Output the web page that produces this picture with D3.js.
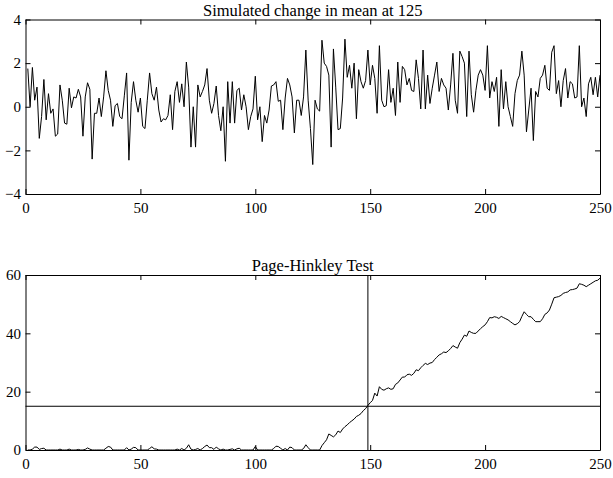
<!DOCTYPE html>
<html>
<head>
<meta charset="utf-8">
<script src="https://cdn.jsdelivr.net/npm/d3@7"></script>
<style>
  body { margin: 0; background: #fff; }
  svg { display: block; }
  .tick text, .title { font-family: 'Liberation Serif', 'Times New Roman', serif; fill: #000; }
  .tick text { font-size: 15px; }
  .title { font-size: 16.5px; }
  .domain, .tick line { stroke: #000; }
</style>
</head>
<body>
<script>
// Simulated signal, mean shifts at sample 125
const signal = [
  1.75, 0.0, 1.8, 0.3, 0.9, -1.45, -0.45, 1.25, -0.6, 0.6,
  -0.3, -0.1, -1.35, -1.25, 1.0, 0.3, -0.75, -0.8, 0.85, -0.05,
  0.45, 0.4, 0.8, 0.45, -1.35, 0.45, 1.1, 0.8, -2.4, -0.3,
  -0.3, 0.4, -0.45, 0.45, 1.65, 0.75, 0.3, -0.9, 0.05, 0.15,
  -0.45, -0.55, 0.5, 1.55, -2.45, 0.2, 1.15, 0.3, -0.25, 0.4,
  -0.9, -1.0, 0.3, 1.55, 0.6, 0.3, 0.9, -0.15, -0.7, -0.55,
  -0.6, -0.4, 0.55, -1.05, 0.7, 1.15, 0.2, 1.05, 0.0, 2.05,
  0.9, -1.85, 0.0, -1.85, 1.0, 0.45, 0.7, 1.0, 1.75, 0.3,
  -0.3, 0.15, 0.95, -0.4, -1.1, 0.0, -2.5, 1.15, -0.75, 1.15,
  -0.75, 0.75, 0.85, -0.15, 0.55, 0.0, -1.05, -0.45, -0.1, 1.4,
  -0.6, 0.0, -1.6, -0.4, -0.75, -0.15, 0.95, 1.0, 1.15, 0.25,
  0.3, -1.05, 0.4, 1.3, 1.0, 0.45, -1.2, 0.3, 0.3, -0.4,
  0.45, 2.6, 0.3, -1.0, -2.65, 0.3, -0.1, -0.2, 3.05, 2.0,
  1.85, 1.45, -1.85, 2.65, 0.9, -1.05, -1.0, 0.4, 3.1, 1.35,
  1.9, 0.85, 2.0, -0.55, 1.7, 1.15, 0.85, 1.2, 2.6, 1.0,
  1.9, 1.3, -0.3, 2.8, 0.3, 0.0, 0.05, 1.7, 0.2, 0.85,
  -0.4, 2.05, 0.2, 1.85, 1.7, 1.0, 1.3, 0.75, 0.7, 2.15,
  1.3, -0.1, 2.6, -0.1, 1.45, 0.15, 0.85, 1.45, 2.05, 0.7,
  1.3, 1.0, 0.85, -0.15, 1.0, 2.45, 0.3, -0.3, 2.55, 2.3,
  2.0, -0.45, 2.55, 0.55, -0.25, 0.75, 1.45, 1.7, 1.45, 0.75,
  2.8, 0.4, 1.15, 0.7, 1.35, -0.9, 1.7, -0.1, 1.15, 0.0,
  -0.45, -0.9, 0.6, 1.2, 1.45, 2.55, 1.45, -1.15, -0.15, 0.85,
  -1.55, 0.7, 0.45, 1.3, 1.45, 1.9, 0.85, 0.75, 2.5, 2.8,
  0.6, 1.2, 0.0, 1.2, 1.75, 0.4, 1.15, 1.05, 0.4, 0.45,
  2.8, 0.0, 0.4, -0.45, 1.05, 1.35, 0.55, 1.35, 0.45, 1.45
];

// Page-Hinkley statistic per sample
const phStat = [
  0, 0, 0.3, 1.0, 1.0, 0.2, 0.5, 0.6, 0, 0,
  0, 0, 0, 0, 0.3, 0, 0, 0, 0.3, 0,
  0, 0, 0.2, 0, 0, 0.2, 0.7, 0.3, 0, 0,
  0, 0, 0, 0, 0.6, 1.2, 1.0, 0, 0, 0,
  0, 0, 0, 0.8, 0, 0.3, 0.9, 0.8, 0, 0,
  0, 0, 0, 0.5, 1.1, 0.4, 0.3, 0, 0, 0,
  0, 0, 0, 0, 0, 0.3, 0, 0.5, 0, 0.6,
  1.8, 0.3, 0, 0.2, 0.5, 0, 0.5, 1.2, 1.7, 0.8,
  0.8, 0.2, 1.0, 0.4, 0, 0.3, 0, 0, 0.2, 0.4,
  0, 0.4, 0.6, 0, 0, 0, 0, 0, 0, 1.2,
  0, 0, 0, 0, 0, 0, 0, 0.5, 1.3, 1.2,
  0.6, 0, 0.5, 0, 1.0, 0.8, 0, 0, 0, 0,
  0.5, 1.8, 0.8, 0, 0, 0, 0, 0, 1.5, 2.5,
  3.5, 5.5, 5.0, 4.5, 5.2, 6.5, 6.0, 7.2, 8.0, 8.6,
  9.4, 10.0, 10.6, 11.5, 11.9, 12.5, 13.5, 14.2, 15.3, 16.2,
  17.0, 19.5, 18.5, 21.7, 20.8, 20.5, 21.0, 21.3, 20.8, 21.0,
  22.5, 23.0, 24.0, 25.0, 25.0, 25.8, 26.0, 25.6, 26.3, 27.5,
  27.2, 28.2, 29.0, 29.7, 29.3, 29.8, 30.0, 31.0, 31.8, 32.6,
  33.0, 33.6, 33.4, 34.0, 34.8, 35.8, 35.3, 34.9, 36.8, 38.0,
  39.4, 39.0, 40.8, 40.3, 40.0, 40.0, 40.8, 41.6, 42.3, 42.9,
  44.0, 45.4, 45.3, 45.7, 45.5, 45.1, 45.8, 45.4, 45.0, 44.6,
  44.0, 43.4, 42.9, 43.3, 44.0, 45.8, 47.4, 46.5, 45.7, 45.7,
  44.8, 44.0, 44.0, 44.0, 45.0, 46.5, 47.0, 48.0, 50.0, 52.2,
  52.4, 52.6, 53.0, 53.7, 54.0, 54.2, 54.9, 55.0, 55.2, 55.5,
  57.0, 56.8, 56.5, 56.0, 56.5, 57.0, 57.5, 58.0, 58.2, 58.9
];

const xTicks = [0, 50, 100, 150, 200, 250];
const signalTicks = [-4, -2, 0, 2, 4];
const phTicks = [0, 20, 40, 60];
const threshold = 15;   // alarm level
const alarmAt = 149;    // sample where the test fires
const titles = ['Simulated change in mean at 125', 'Page-Hinkley Test'];

/*
 * Layout
 */
const width = 613, height = 478;
const left = 25.5, right = 600;
const tick = 5;

const svg = d3.select('body').append('svg')
  .attr('width', width)
  .attr('height', height);

const x = d3.scaleLinear().domain([0, 250]).range([left, right]);

// Draw one MATLAB-like axes box with inward ticks on all four sides
function panel(top, bottom, yDomain, yTicks, values, title) {
  const y = d3.scaleLinear().domain(yDomain).range([bottom, top]);
  const g = svg.append('g');

  g.append('g')
    .attr('transform', 'translate(0,' + bottom + ')')
    .call(d3.axisBottom(x).tickValues(xTicks).tickSize(-tick).tickPadding(8).tickSizeOuter(0));
  g.append('g')
    .attr('transform', 'translate(0,' + top + ')')
    .call(d3.axisTop(x).tickValues(xTicks).tickSize(-tick).tickFormat('').tickSizeOuter(0));
  g.append('g')
    .attr('transform', 'translate(' + left + ',0)')
    .call(d3.axisLeft(y).tickValues(yTicks).tickSize(-tick).tickPadding(4.5).tickSizeOuter(0));
  g.append('g')
    .attr('transform', 'translate(' + right + ',0)')
    .call(d3.axisRight(y).tickValues(yTicks).tickSize(-tick).tickFormat('').tickSizeOuter(0));

  g.selectAll('.tick text').attr('font-family', null).attr('font-size', null);

  const line = d3.line()
    .x((d, i) => x(i + 1))
    .y((d) => y(d));

  g.append('path')
    .datum(values)
    .attr('fill', 'none')
    .attr('stroke', '#000')
    .attr('stroke-width', 1)
    .attr('d', line);

  g.append('text')
    .attr('class', 'title')
    .attr('x', (left + right) / 2)
    .attr('y', top - 4)
    .attr('text-anchor', 'middle')
    .text(title);

  return { g, y };
}

panel(19.5, 194, [-4, 4], signalTicks, signal, titles[0]);
const ph = panel(275, 450, [0, 60], phTicks, phStat, titles[1]);

// Threshold and detection markers
ph.g.append('line')
  .attr('x1', left).attr('x2', right)
  .attr('y1', ph.y(threshold)).attr('y2', ph.y(threshold))
  .attr('stroke', '#000');
ph.g.append('line')
  .attr('x1', x(alarmAt)).attr('x2', x(alarmAt))
  .attr('y1', ph.y(0)).attr('y2', ph.y(60))
  .attr('stroke', '#000');
</script>
</body>
</html>
